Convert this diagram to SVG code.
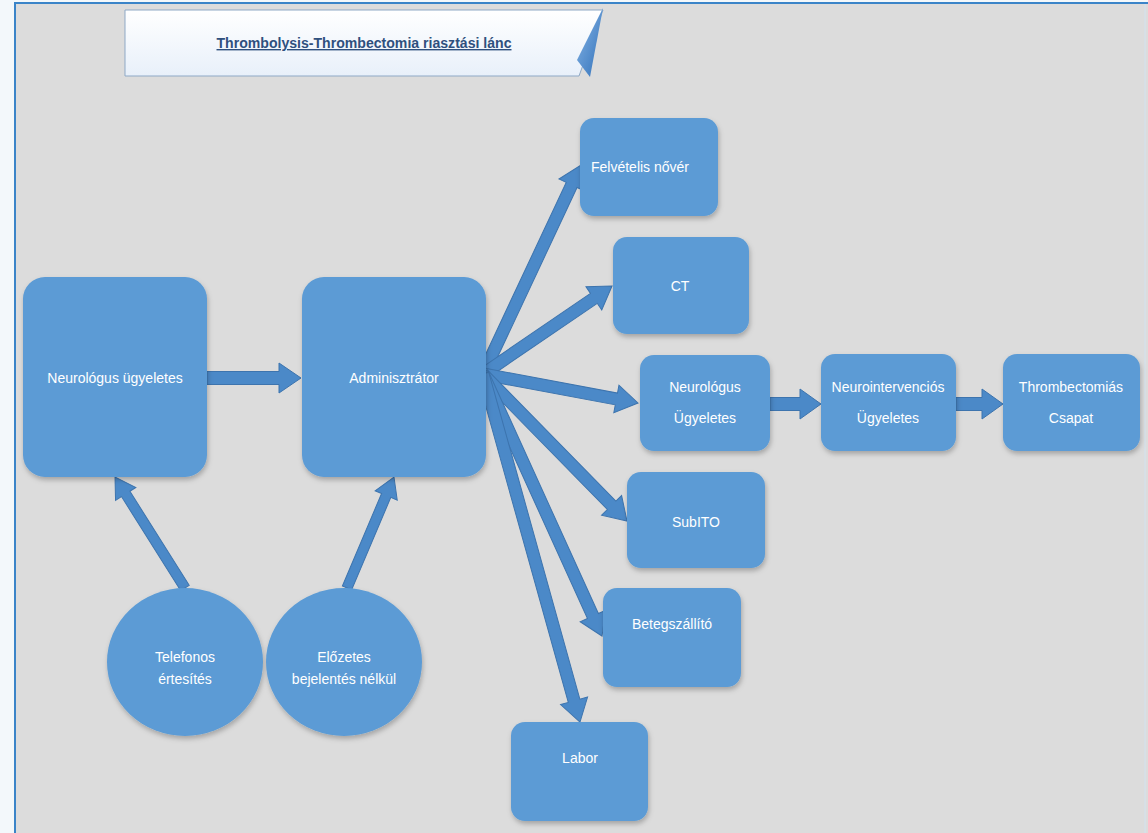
<svg xmlns="http://www.w3.org/2000/svg" width="1148" height="833" viewBox="0 0 1148 833">
<defs>
<filter id="sh" x="-20%" y="-20%" width="140%" height="140%">
<feDropShadow dx="1" dy="3" stdDeviation="2.5" flood-color="#000" flood-opacity="0.25"/>
</filter>
<linearGradient id="ban" x1="0" y1="0" x2="0" y2="1">
<stop offset="0" stop-color="#ffffff"/>
<stop offset="1" stop-color="#e8f0fa"/>
</linearGradient>
<linearGradient id="fold" x1="0" y1="0" x2="1" y2="1">
<stop offset="0" stop-color="#8ab8e8"/>
<stop offset="1" stop-color="#2f6fb8"/>
</linearGradient>
</defs>
<style>
.node{fill:#5b9bd5;filter:url(#sh)}
.lbl{font-family:"Liberation Sans",Arial,sans-serif;font-size:14px;fill:#ffffff;text-anchor:middle}
.arr{fill:#4b89c8;stroke:#3d74ae;stroke-width:1}
.title{font-family:"Liberation Sans",Arial,sans-serif;font-size:14px;font-weight:bold;fill:#2f507e;text-anchor:middle;text-decoration:underline}
</style>
<rect x="0" y="0" width="1148" height="833" fill="#f3f8fb"/>
<rect x="15" y="3" width="1133" height="830" fill="#dcdcdc"/>
<line x1="15" y1="3" x2="15" y2="833" stroke="#3a84c8" stroke-width="2"/>
<line x1="14" y1="3" x2="1148" y2="3" stroke="#3a84c8" stroke-width="2"/>
<line x1="1145" y1="4" x2="1145" y2="833" stroke="#d3e3f0" stroke-width="1"/>
<g id="title">
<polygon points="125,10 603,10 579,76 125,76" fill="url(#ban)" stroke="#8fa9c6" stroke-width="1"/>
<polygon points="603,8 577,60 590,77" fill="url(#fold)"/>
<text class="title" x="364" y="48" textLength="295" lengthAdjust="spacingAndGlyphs">Thrombolysis-Thrombectomia riasztási lánc</text>
</g>
<g id="connectors">
<path class="arr" d="M207,371.5 H279 V363 L301,378 L279,393 V384.5 H207 Z"/>
<g transform="translate(483,374) rotate(-64.88)"><path class="arr" d="M0,-6 H208.8 V-14 L230.8,0 L208.8,14 V6 H0 Z"/></g>
<g transform="translate(483,374) rotate(-34.3)"><path class="arr" d="M0,-6 H134.2 V-14 L156.2,0 L134.2,14 V6 H0 Z"/></g>
<g transform="translate(483,374) rotate(10.6)"><path class="arr" d="M0,-6 H135.7 V-14 L157.7,0 L135.7,14 V6 H0 Z"/></g>
<g transform="translate(483,374) rotate(45.6)"><path class="arr" d="M0,-6 H183.8 V-14 L205.8,0 L183.8,14 V6 H0 Z"/></g>
<g transform="translate(483,374) rotate(65.57)"><path class="arr" d="M0,-6 H265.8 V-14 L287.8,0 L265.8,14 V6 H0 Z"/></g>
<g transform="translate(483,374) rotate(74.43)"><path class="arr" d="M0,-6 H339.3 V-14 L361.3,0 L339.3,14 V6 H0 Z"/></g>
<g transform="translate(185,588) rotate(-122.23)"><path class="arr" d="M0,-5 H111.2 V-12 L131.2,0 L111.2,12 V5 H0 Z"/></g>
<g transform="translate(347,588) rotate(-67.05)"><path class="arr" d="M0,-5 H100.5 V-12 L120.5,0 L100.5,12 V5 H0 Z"/></g>
<path class="arr" d="M770,397.5 H800 V389 L821,404 L800,419 V410.5 H770 Z"/>
<path class="arr" d="M956,397.5 H982 V389 L1003,404 L982,419 V410.5 H956 Z"/>
</g>
<g id="n-neurologus">
<rect class="node" x="23" y="277" width="184" height="200" rx="22"/>
<text class="lbl" x="115" y="383">Neurológus ügyeletes</text>
</g>
<g id="n-admin">
<rect class="node" x="302" y="277" width="184" height="200" rx="22"/>
<text class="lbl" x="394" y="383">Adminisztrátor</text>
</g>
<g id="n-felvetelis">
<rect class="node" x="580" y="118" width="138" height="98" rx="14"/>
<text class="lbl" x="640" y="172">Felvételis nővér</text>
</g>
<g id="n-ct">
<rect class="node" x="613" y="237" width="136" height="97" rx="14"/>
<text class="lbl" x="680" y="291">CT</text>
</g>
<g id="n-neuro2">
<rect class="node" x="640" y="355" width="130" height="96" rx="14"/>
<text class="lbl" x="705" y="392">Neurológus</text>
<text class="lbl" x="705" y="423">Ügyeletes</text>
</g>
<g id="n-neurointerv">
<rect class="node" x="821" y="354" width="135" height="97" rx="14"/>
<text class="lbl" x="888" y="392">Neurointervenciós</text>
<text class="lbl" x="888" y="423">Ügyeletes</text>
</g>
<g id="n-thrombect">
<rect class="node" x="1003" y="354" width="137" height="97" rx="14"/>
<text class="lbl" x="1071" y="392">Thrombectomiás</text>
<text class="lbl" x="1071" y="423">Csapat</text>
</g>
<g id="n-subito">
<rect class="node" x="627" y="472" width="138" height="96" rx="14"/>
<text class="lbl" x="696" y="527">SubITO</text>
</g>
<g id="n-beteg">
<rect class="node" x="603" y="588" width="138" height="99" rx="14"/>
<text class="lbl" x="672" y="629">Betegszállító</text>
</g>
<g id="n-labor">
<rect class="node" x="511" y="722" width="137" height="99" rx="14"/>
<text class="lbl" x="580" y="763">Labor</text>
</g>
<g id="n-telefonos">
<ellipse class="node" cx="185" cy="662" rx="78" ry="74"/>
<text class="lbl" x="185" y="662">Telefonos</text>
<text class="lbl" x="185" y="684">értesítés</text>
</g>
<g id="n-elozetes">
<ellipse class="node" cx="344" cy="662" rx="78" ry="74"/>
<text class="lbl" x="344" y="662">Előzetes</text>
<text class="lbl" x="344" y="684">bejelentés nélkül</text>
</g>
</svg>
